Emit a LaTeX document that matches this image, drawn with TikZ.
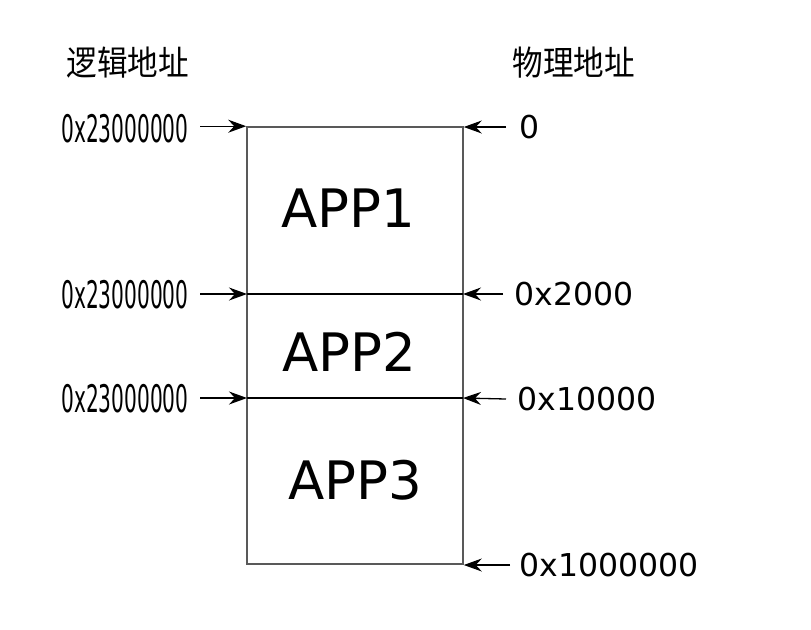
\documentclass[tikz,border=0pt]{standalone}
\usepackage{fontspec}
\setmainfont{DejaVu Sans}
\newfontfamily\cjkfont[FakeStretch=0.9]{Noto Sans CJK SC}
\newfontfamily\narrowfont[FakeStretch=0.53]{DejaVu Sans}
\usetikzlibrary{arrows.meta}

\begin{document}
\begin{tikzpicture}[x=0.5pt, y=-0.5pt, >={Stealth[length=9pt, width=6.5pt, inset=3pt]}]

    % Styles for the memory map
    \tikzset{addr/.style={->, line width=0.65pt}}
    \tikzset{divider/.style={line width=0.7pt, black}}
    \tikzset{memblock/.style={draw=border, line width=0.8pt, inner sep=0pt}}
    \tikzset{appname/.style={font=\fontsize{26.5pt}{30pt}\selectfont, inner sep=0pt}}
    \tikzset{heading/.style={font=\cjkfont\fontsize{17pt}{20pt}\selectfont, inner sep=0pt}}
    \tikzset{logaddr/.style={font=\narrowfont\fontsize{19pt}{22pt}\selectfont, inner sep=0pt, anchor=east}}
    \tikzset{physaddr/.style={font=\fontsize{15.75pt}{18pt}\selectfont, inner sep=0pt, anchor=west}}

    % Colours
    \colorlet{border}{black!65}

    % Fix the page to the reference size
    \useasboundingbox (0,0) rectangle (811,629);

    % Memory block with its two cuts
    \node [memblock, minimum width=108pt, minimum height=218.5pt] (mem) at (355,345.5) {};
    \coordinate (cut1w) at (247,294);
    \coordinate (cut1e) at (463,294);
    \coordinate (cut2w) at (247,398);
    \coordinate (cut2e) at (463,398);
    \draw[divider] (cut1w) -- (cut1e);
    \draw[divider] (cut2w) -- (cut2e);

    % Application names
    \node[appname] (app1) at (348,208) {APP1};
    \node[appname] (app2) at (349,352) {APP2};
    \node[appname] (app3) at (355,480) {APP3};

    % Column headings
    \node[heading] (logic) at (128,63) {逻辑地址};
    \node[heading] (phys) at (574,63) {物理地址};

    % Logical addresses on the left
    \node[logaddr] (la1) at (189,129) {0x23000000};
    \node[logaddr] (la2) at (189,295) {0x23000000};
    \node[logaddr] (la3) at (189,399) {0x23000000};
    \draw[addr] ([xshift=5.5pt]la1.east |- mem.north) -- (mem.north west);
    \draw[addr] ([xshift=5.5pt]la2.east |- cut1w) -- (cut1w);
    \draw[addr] ([xshift=5.5pt]la3.east |- cut2w) -- (cut2w);

    % Physical addresses on the right
    \node[physaddr] (pa0) at (519,127) {0};
    \node[physaddr] (pa1) at (514,294) {0x2000};
    \node[physaddr] (pa2) at (517,399) {0x10000};
    \node[physaddr] (pa3) at (519,565) {0x1000000};
    \draw[addr] ([xshift=-6.5pt]pa0.west) -- (pa0.west -| mem.east);
    \draw[addr] ([xshift=-5.5pt]pa1.west) -- (cut1e);
    \draw[addr] ([xshift=-5.5pt]pa2.west) -- (cut2e);
    \draw[addr] ([xshift=-4.5pt]pa3.west) -- (pa3.west -| mem.east);

\end{tikzpicture}
\end{document}
